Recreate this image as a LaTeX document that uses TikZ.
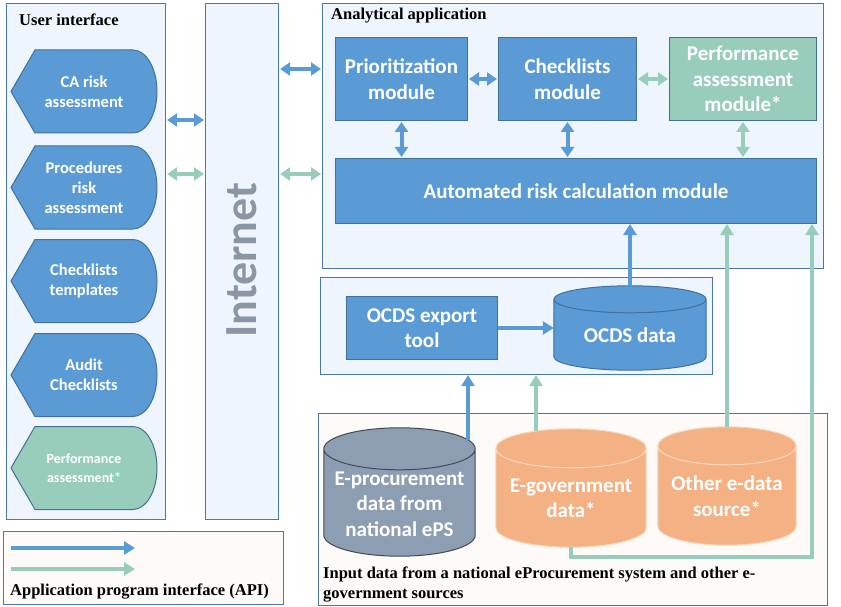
\documentclass[tikz,border=0pt]{standalone}
\usepackage{fontspec}
\setmainfont{Liberation Serif}
\newfontfamily\calfont{Carlito}
\usetikzlibrary{positioning,calc,arrows.meta}

\definecolor{cBlue}{HTML}{5B9BD5}
\definecolor{cBlueLine}{HTML}{41719C}
\definecolor{cGreen}{HTML}{99CDBB}
\definecolor{cPanel}{HTML}{EEF5FC}
\definecolor{cPanelLine}{HTML}{4A78A9}
\definecolor{cCream}{HTML}{FDFAF7}
\definecolor{cOrange}{HTML}{F4B183}
\definecolor{cOrangeLine}{HTML}{F9D6BE}
\definecolor{cSlate}{HTML}{8D9DB2}
\definecolor{cSlateLine}{HTML}{404B5A}
\definecolor{cNet}{HTML}{8A96A3}

\tikzset{
  panel/.style={draw=cPanelLine, fill=cPanel, line width=1.1pt, anchor=north west, inner sep=0pt},
  ptitle/.style={font=\bfseries\fontsize{16.5}{20}\selectfont, anchor=west, inner sep=0pt},
  module/.style={draw=cBlueLine, fill=cBlue, line width=1pt, anchor=north west, inner sep=0pt,
                 align=center, text=white, font=\calfont\bfseries\fontsize{21}{25.5}\selectfont},
  storebox/.style={inner sep=0pt},
  storetext/.style={align=center, text=white, inner sep=0pt,
                    font=\calfont\bfseries\fontsize{21}{25.5}\selectfont},
  uishape/.style={draw=cBlueLine, line width=1pt},
  uitext/.style={align=center, text=white, inner sep=0pt},
  dblblue/.style={draw=cBlue, line width=4pt, shorten <=1pt, shorten >=1pt,
                  {Triangle[width=13pt,length=10pt]}-{Triangle[width=13pt,length=10pt]}},
  dblgreen/.style={dblblue, draw=cGreen},
  upblue/.style={draw=cBlue, line width=4pt, -{Triangle[width=13pt,length=11pt]}},
  upgreen/.style={upblue, draw=cGreen}
}

\begin{document}
\begin{tikzpicture}[x=1pt,y=-1pt]
\useasboundingbox (0,0) rectangle (841,607);

% panels
\node[panel, minimum width=159, minimum height=516] (ui)   at (6,3)     {};
\node[panel, minimum width=73,  minimum height=516] (inet) at (205,3)   {};
\node[panel, minimum width=501, minimum height=265] (ana)  at (322,3)   {};
\node[panel, minimum width=392, minimum height=97]  (ocds) at (320,277) {};
\node[panel, fill=cCream, minimum width=509, minimum height=192] (inp) at (318,413) {};
\node[panel, fill=cCream, minimum width=280, minimum height=73]  (leg) at (3,531)   {};

\node[ptitle] (uititle)  at ([xshift=13,yshift=-17]ui.north west) {User interface};
\node[ptitle] (anatitle) at ([xshift=9,yshift=-13]ana.north west) {Analytical application};
\node[ptitle, anchor=north west, align=left] (inptitle) at ([xshift=5,yshift=39.5]inp.south west)
  {Input data from a national eProcurement system and other e-\\government sources};
\node[ptitle] (legtitle) at ([xshift=7,yshift=14]leg.south west) {Application program interface (API)};

\node[font=\calfont\bfseries\fontsize{46}{46}\selectfont, text=cNet, rotate=90, inner sep=0pt]
  (nettext) at ([yshift=1.5]inet.center) {Internet};

% user interface shapes
\foreach \c/\nm/\clr/\fs/\bs/\txt in {
    91.5/uica/cBlue/16.5/20/{CA risk\\assessment},
    187.5/uiproc/cBlue/16.5/20/{Procedures\\risk\\assessment},
    281/uitmpl/cBlue/16.5/20/{Checklists\\templates},
    375/uiaudit/cBlue/16.5/20/{Audit\\Checklists},
    468/uiperf/cGreen/14/18.5/{Performance\\assessment*}}{
  \draw[uishape, fill=\clr] (11,\c) -- (35,{\c-41.5}) -- (133,{\c-41.5})
      .. controls (146.3,{\c-41.5}) and (157,{\c-22.9}) .. (157,\c)
      .. controls (157,{\c+22.9}) and (146.3,{\c+41.5}) .. (133,{\c+41.5})
      -- (35,{\c+41.5}) -- cycle;
  \node[uitext, font=\calfont\bfseries\fontsize{\fs}{\bs}\selectfont] (\nm) at (84,\c) {\txt};
}

% analytical application
\node[module, minimum width=132, minimum height=83] (prio)   at (335,37)  {Prioritization\\module};
\node[module, minimum width=138, minimum height=83] (chk)    at (498,37)  {Checklists\\module};
\node[module, fill=cGreen, minimum width=147, minimum height=83] (perf) at (669,37) {Performance\\assessment\\module*};
\node[module, minimum width=481, minimum height=65] (auto)   at (335,158) {Automated risk calculation module};
\node[module, minimum width=151, minimum height=63] (export) at (346,296) {OCDS export\\tool};

% data stores
\node[storebox, minimum width=152, minimum height=84]  (ocdsdata) at (630,328)   {};
\node[storebox, minimum width=151, minimum height=128] (eps)      at (399.5,492) {};
\node[storebox, minimum width=150, minimum height=118] (egov)     at (571,488)   {};
\node[storebox, minimum width=138, minimum height=118] (other)    at (727,486)   {};

\foreach \st/\ry/\clr/\lclr in {ocdsdata/13.5pt/cBlue/cBlueLine, eps/21pt/cSlate/cSlateLine,
                                egov/19.5pt/cOrange/cOrangeLine, other/19pt/cOrange/cOrangeLine}{
  \draw[draw=\lclr, fill=\clr, line width=1pt]
    let \p1=(\st.north west), \p2=(\st.south east), \n1={(\x2-\x1)/2} in
    (\x1,\y1-\ry) -- (\x1,\y2+\ry)
    arc[start angle=180, end angle=360, x radius=\n1, y radius=\ry]
    -- (\x2,\y1-\ry)
    arc[start angle=0, end angle=180, x radius=\n1, y radius=\ry] -- cycle
    (\x1,\y1-\ry) arc[start angle=180, end angle=360, x radius=\n1, y radius=\ry];
}

\node[storetext] (ocdstext)  at ([yshift=-7]ocdsdata.center) {OCDS data};
\node[storetext] (epstext)   at ([yshift=-12]eps.center)     {E-procurement\\data from\\national ePS};
\node[storetext] (egovtext)  at ([yshift=-10.5]egov.center)  {E-government\\data*};
\node[storetext] (othertext) at ([yshift=-10]other.center)   {Other e-data\\source*};

% API connectors
\draw[dblblue]  ([yshift=-117]ui.north east)   -- ([yshift=-117]inet.north west);
\draw[dblgreen] ([yshift=-171]ui.north east)   -- ([yshift=-171]inet.north west);
\draw[dblblue]  ([yshift=-66]inet.north east)  -- ([yshift=-66]ana.north west);
\draw[dblgreen] ([yshift=-171]inet.north east) -- ([yshift=-171]ana.north west);

\draw[dblblue]  (prio) -- (chk);
\draw[dblgreen] (chk) -- (perf);
\draw[dblblue]  (prio.south) -- (prio.south |- auto.north);
\draw[dblblue]  (chk.south)  -- (chk.south |- auto.north);
\draw[dblgreen] (perf.south) -- (perf.south |- auto.north);

\draw[upblue]  (ocdsdata.north) -- (ocdsdata.north |- auto.south);
\draw[upgreen] (other.north) -- (other.north |- auto.south);
\draw[upgreen] (egov.south) -- ++(0,10) -| ([xshift=-5]auto.south east);
\draw[upblue, line width=3.5pt] (export.east) -- (export.east -| ocdsdata.west);

\coordinate (epsout)  at ($(eps.north)+(68.5,12)$);
\coordinate (egovout) at ($(egov.north)+(-35,2)$);
\draw[upblue]  (epsout)  -- (epsout |- ocds.south);
\draw[upgreen] (egovout) -- (egovout |- ocds.south);

% legend
\coordinate (legb) at ([xshift=8,yshift=-17]leg.north west);
\coordinate (legg) at ([xshift=8,yshift=-38]leg.north west);
\draw[upblue]  (legb) -- ++(124,0);
\draw[upgreen] (legg) -- ++(124,0);

\end{tikzpicture}
\end{document}
